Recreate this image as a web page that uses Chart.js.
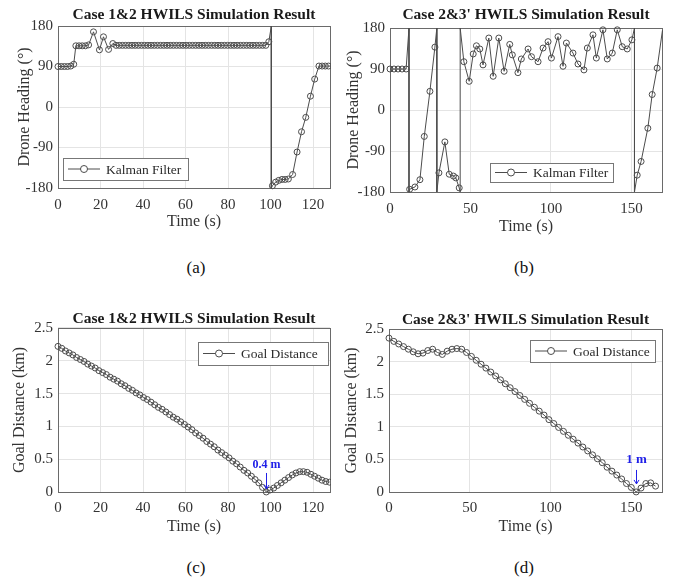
<!DOCTYPE html>
<html>
<head>
<meta charset="utf-8">
<script src="https://cdn.jsdelivr.net/npm/chart.js@4.4.1/dist/chart.umd.min.js"></script>
<style>
  body { margin: 0; background: #fff; }
  #page { position: relative; width: 675px; height: 586px; overflow: hidden; background: #fff; }
  #page canvas { position: absolute; }
  .cap { position: absolute; font: 17px "Liberation Serif", "Times New Roman", serif; color: #111; transform: translate(-50%, -50%); }
</style>
</head>
<body>
<div id="page">
  <canvas id="panelA" width="337" height="240" style="left:0;top:0"></canvas>
  <canvas id="panelB" width="338" height="240" style="left:337px;top:0"></canvas>
  <canvas id="panelC" width="337" height="244" style="left:0;top:298px"></canvas>
  <canvas id="panelD" width="338" height="244" style="left:337px;top:298px"></canvas>
  <div class="cap" style="left:196px;top:268px">(a)</div>
  <div class="cap" style="left:524px;top:268px">(b)</div>
  <div class="cap" style="left:196px;top:568px">(c)</div>
  <div class="cap" style="left:524px;top:568px">(d)</div>
</div>
<script>
// heading, case 1&2 (time in s, heading in deg; +/-180 pairs are the wrap-around)
const headA_t = [0, 1.5, 3, 4.5, 6, 7.4, 8.4, 9.9, 11.4, 12.9, 14.4, 16.7, 19.5, 21.4, 23.8, 25.8,
  27.3, 28.8, 30.3, 31.8, 33.3, 34.8, 36.3, 37.8, 39.3, 40.8, 42.3, 43.8, 45.3, 46.8, 48.3, 49.8,
  51.3, 52.8, 54.3, 55.8, 57.3, 58.8, 60.3, 61.8, 63.3, 64.8, 66.3, 67.8, 69.3, 70.8, 72.3, 73.8,
  75.3, 76.8, 78.3, 79.8, 81.3, 82.8, 84.3, 85.8, 87.3, 88.8, 90.3, 91.8, 93.3, 94.8, 96.3, 97.8,
  99.2, 100.4, 100.4, 100.9, 102.4, 103.9, 105.4, 106.9, 108.4, 110.4, 112.5, 114.6, 116.6,
  118.8, 120.8, 122.8, 124.3, 125.8, 127.3, 128.8];
const headA_deg = [90, 90, 90, 90, 91, 95, 136, 136, 136, 136, 138, 167, 127, 156, 128, 141,
  137, 137, 137, 137, 137, 137, 137, 137, 137, 137, 137, 137, 137, 137, 137, 137,
  137, 137, 137, 137, 137, 137, 137, 137, 137, 137, 137, 137, 137, 137, 137, 137,
  137, 137, 137, 137, 137, 137, 137, 137, 137, 137, 137, 137, 137, 137, 137, 137,
  145, 180, -180, -175, -167, -163, -161, -161, -160, -150, -100, -55, -23,
  24, 62, 91, 91, 91, 91, 91];

// heading, case 2&3'
const headB_t = [0, 2.5, 5, 7.5, 10, 11.8, 11.8, 12.2, 15.5, 18.6, 21.3, 24.8, 27.9, 29.1, 29.1,
  30.4, 34.1, 36.8, 39.4, 40.9, 43.0, 43.6, 43.6, 45.9, 49.2, 51.7, 53.7, 55.8, 57.8, 61.4, 64.1,
  67.6, 70.9, 74.4, 76.0, 79.5, 81.6, 85.8, 87.9, 92.0, 95.1, 98.2, 100.3, 104.4, 107.5, 109.6,
  113.7, 116.8, 120.5, 122.6, 126.1, 128.2, 132.3, 135.0, 138.1, 141.2, 144.3, 147.4, 150.3,
  151.9, 151.9, 153.6, 156.0, 160.2, 162.9, 166.0, 169.3];
const headB_deg = [90, 90, 90, 90, 90, 180, -180, -174, -169, -153, -58, 41, 138, 180, -180,
  -138, -70, -141, -145, -149, -171, -180, 180, 106, 63, 123, 141, 134, 99, 158, 74,
  158, 85, 144, 121, 82, 112, 134, 117, 106, 136, 150, 114, 161, 96, 147,
  125, 101, 88, 136, 165, 114, 176, 112, 125, 176, 139, 134, 154,
  180, -180, -143, -113, -40, 34, 92, 175];

// goal distance, case 1&2 (km)
const distC_t = [0, 1.75, 3.5, 5.25, 7, 8.75, 10.5, 12.25, 14, 15.75, 17.5, 19.25, 21, 22.75,
  24.5, 26.25, 28, 29.75, 31.5, 33.25, 35, 36.75, 38.5, 40.25, 42, 43.75, 45.5, 47.25, 49, 50.75,
  52.5, 54.25, 56, 57.75, 59.5, 61.25, 63, 64.75, 66.5, 68.25, 70, 71.75, 73.5, 75.25, 77, 78.75,
  80.5, 82.25, 84, 85.75, 87.5, 89.25, 91, 92.75, 94.5, 96.25, 98, 99.75, 101.5, 103.25, 105,
  106.75, 108.5, 110.25, 112, 113.75, 115.5, 117.25, 119, 120.75, 122.5, 124.25, 126, 127.75];
const distC_km = [2.22, 2.19, 2.15, 2.12, 2.09, 2.05, 2.02, 1.99, 1.95, 1.92, 1.89, 1.85, 1.82, 1.79,
  1.75, 1.72, 1.69, 1.65, 1.62, 1.58, 1.55, 1.51, 1.48, 1.44, 1.41, 1.37, 1.33, 1.29, 1.26, 1.22,
  1.18, 1.14, 1.11, 1.07, 1.03, 0.99, 0.95, 0.90, 0.86, 0.82, 0.77, 0.73, 0.69, 0.64, 0.60, 0.56,
  0.52, 0.47, 0.43, 0.38, 0.33, 0.29, 0.24, 0.19, 0.14, 0.07, 0.0004, 0.03, 0.06, 0.10, 0.14,
  0.18, 0.22, 0.26, 0.29, 0.31, 0.31, 0.30, 0.27, 0.24, 0.21, 0.18, 0.16, 0.15];

// goal distance, case 2&3'
const distD_t = [0, 3, 6, 9, 12, 15, 18, 21, 24, 27, 30, 33, 36, 39, 42, 45, 48, 51, 54, 57, 60,
  63, 66, 69, 72, 75, 78, 81, 84, 87, 90, 93, 96, 99, 102, 105, 108, 111, 114, 117, 120, 123,
  126, 129, 132, 135, 138, 141, 144, 147, 150, 153, 156, 159, 162, 165];
const distD_km = [2.36, 2.31, 2.27, 2.23, 2.19, 2.15, 2.12, 2.13, 2.17, 2.19, 2.14, 2.11, 2.16,
  2.19, 2.20, 2.19, 2.14, 2.08, 2.02, 1.96, 1.90, 1.84, 1.78, 1.72, 1.66, 1.60, 1.54, 1.48, 1.42,
  1.36, 1.30, 1.24, 1.18, 1.11, 1.05, 0.99, 0.93, 0.87, 0.81, 0.75, 0.69, 0.63, 0.57, 0.51, 0.45,
  0.38, 0.32, 0.26, 0.20, 0.13, 0.07, 0.001, 0.06, 0.13, 0.14, 0.09];

const ticksA = [0, 20, 40, 60, 80, 100, 120];
const ticksB = [0, 50, 100, 150];
const headingTicks = [-180, -90, 0, 90, 180];
const headingLabels = ['-180', '-90', '0', '90', '180'];
const distTicks = [0, 0.5, 1, 1.5, 2, 2.5];
const distLabels = ['0', '0.5', '1', '1.5', '2', '2.5'];

const FONT = "'Liberation Serif', 'Times New Roman', serif";
const INK = '#2a2a2a';
const LINE = '#4c4c4c';

Chart.defaults.font.family = FONT;

// box around the axes, drawn under the data
const framePlugin = {
  id: 'frame',
  beforeDatasetsDraw(chart) {
    const { ctx, chartArea: a } = chart;
    ctx.save();
    ctx.strokeStyle = '#6a6a6a';
    ctx.lineWidth = 1;
    ctx.strokeRect(Math.round(a.left) + 0.5, Math.round(a.top) + 0.5, Math.round(a.width), Math.round(a.height));
    ctx.restore();
  }
};

// boxed legend with a line-and-circle sample, placed inside the axes
const boxLegend = {
  id: 'boxLegend',
  afterDatasetsDraw(chart, args, opts) {
    const { ctx, chartArea: a } = chart;
    const x = Math.round(a.left + opts.x), y = Math.round(a.top + opts.y);
    const my = y + opts.h / 2;
    ctx.save();
    ctx.fillStyle = '#fff';
    ctx.fillRect(x, y, opts.w, opts.h);
    ctx.strokeStyle = '#777';
    ctx.lineWidth = 1;
    ctx.strokeRect(x + 0.5, y + 0.5, opts.w, opts.h);
    ctx.strokeStyle = LINE;
    ctx.beginPath();
    ctx.moveTo(x + 5, my);
    ctx.lineTo(x + 37, my);
    ctx.stroke();
    ctx.fillStyle = '#fff';
    ctx.beginPath();
    ctx.arc(x + 21, my, 3.5, 0, Math.PI * 2);
    ctx.fill();
    ctx.stroke();
    ctx.fillStyle = INK;
    ctx.font = '13.5px ' + FONT;
    ctx.textBaseline = 'middle';
    ctx.fillText(chart.data.datasets[0].label, x + 43, my + 1);
    ctx.restore();
  }
};

// blue label + arrow over the closest approach
const minNote = {
  id: 'minNote',
  afterDatasetsDraw(chart, args, opts) {
    if (!opts.show) return;
    const pts = chart.data.datasets[0].data;
    let k = 0;
    pts.forEach((p, i) => { if (p.y < pts[k].y) k = i; });
    const el = chart.getDatasetMeta(0).data[k];
    const px = Math.round(el.x) + 0.5, py = el.y;
    const text = +(pts[k].y * 1000).toFixed(1) + ' m';
    const { ctx } = chart;
    ctx.save();
    ctx.fillStyle = '#2020e8';
    ctx.strokeStyle = '#2020e8';
    ctx.font = 'bold ' + opts.size + 'px ' + FONT;
    ctx.textAlign = 'center';
    ctx.textBaseline = 'middle';
    ctx.fillText(text, px, py + opts.textDy);
    ctx.lineWidth = 1;
    ctx.beginPath();
    ctx.moveTo(px, py + opts.arrowTop);
    ctx.lineTo(px, py + opts.arrowBottom);
    ctx.stroke();
    ctx.beginPath();
    ctx.moveTo(px - 2.5, py + opts.arrowBottom - 4);
    ctx.lineTo(px, py + opts.arrowBottom);
    ctx.lineTo(px + 2.5, py + opts.arrowBottom - 4);
    ctx.stroke();
    ctx.restore();
  }
};

function panel(id, p) {
  const pts = p.t.map((x, i) => ({ x: x, y: p.v[i] }));
  return new Chart(document.getElementById(id), {
    type: 'line',
    data: {
      datasets: [{
        label: p.label,
        data: pts,
        borderColor: LINE,
        borderWidth: 1,
        tension: 0,
        pointStyle: 'circle',
        pointRadius: c => (c.raw && (Math.abs(c.raw.y) >= 180 || c.raw.x > p.xMax)) ? 0 : 3,
        pointBorderColor: LINE,
        pointBorderWidth: 1,
        pointBackgroundColor: 'rgba(255,255,255,0)',
        clip: { left: 4, right: 1, top: 4, bottom: 4 }
      }]
    },
    plugins: [framePlugin, boxLegend, minNote],
    options: {
      responsive: false,
      animation: false,
      devicePixelRatio: 1,
      events: [],
      layout: { padding: { left: 0, top: 0, right: p.padRight, bottom: 0 } },
      plugins: {
        legend: { display: false },
        tooltip: { enabled: false },
        title: {
          display: true,
          text: p.title,
          fullSize: false,
          color: '#1a1a1a',
          font: { family: FONT, size: 15.5, weight: 'bold' },
          padding: p.titlePad
        },
        boxLegend: p.legend,
        minNote: p.note || { show: false }
      },
      scales: {
        x: {
          type: 'linear',
          min: 0,
          max: p.xMax,
          afterBuildTicks: s => { s.ticks = p.xTicks.map(v => ({ value: v })); },
          afterFit: s => { s.height = p.xHeight; },
          grid: { color: '#e4e4e4', drawTicks: false },
          border: { display: false },
          ticks: { color: '#333', font: { family: FONT, size: 15 }, padding: p.xTickPad, maxRotation: 0, autoSkip: false },
          title: { display: true, text: 'Time (s)', color: '#333', font: { family: FONT, size: 16 }, padding: { top: 0, bottom: p.xTitlePad } }
        },
        y: {
          type: 'linear',
          min: p.yTicks[0],
          max: p.yTicks[p.yTicks.length - 1],
          afterBuildTicks: s => { s.ticks = p.yTicks.map(v => ({ value: v })); },
          afterFit: s => { s.width = p.yWidth; },
          grid: { color: '#e4e4e4', drawTicks: false },
          border: { display: false },
          ticks: {
            color: '#333', font: { family: FONT, size: 15 }, padding: 5,
            callback: (v, i) => p.yLabels[i]
          },
          title: { display: true, text: p.yTitle, color: '#333', font: { family: FONT, size: 16 }, padding: { top: p.yTitlePad, bottom: 0 } }
        }
      }
    }
  });
}

panel('panelA', {
  title: 'Case 1&2 HWILS Simulation Result', label: 'Kalman Filter',
  t: headA_t, v: headA_deg, xMax: 128, xTicks: ticksA, yTicks: headingTicks, yLabels: headingLabels,
  yTitle: 'Drone Heading (°)', yWidth: 58, padRight: 7, xHeight: 52,
  titlePad: { top: 5.7, bottom: 1.7 }, xTickPad: 8, xTitlePad: 8.7, yTitlePad: 15.4,
  legend: { x: 5, y: 132, w: 125, h: 22 }
});

panel('panelB', {
  title: "Case 2&3' HWILS Simulation Result", label: 'Kalman Filter',
  t: headB_t, v: headB_deg, xMax: 169, xTicks: ticksB, yTicks: headingTicks, yLabels: headingLabels,
  yTitle: 'Drone Heading (°)', yWidth: 53, padRight: 13, xHeight: 48,
  titlePad: { top: 5.7, bottom: 3.7 }, xTickPad: 8, xTitlePad: 3.7, yTitlePad: 6.7,
  legend: { x: 100, y: 135, w: 123, h: 19 }
});

panel('panelC', {
  title: 'Case 1&2 HWILS Simulation Result', label: 'Goal Distance',
  t: distC_t, v: distC_km, xMax: 128, xTicks: ticksA, yTicks: distTicks, yLabels: distLabels,
  yTitle: 'Goal Distance (km)', yWidth: 58, padRight: 7, xHeight: 50,
  titlePad: { top: 11.2, bottom: 0.2 }, xTickPad: 6.7, xTitlePad: 5.4, yTitlePad: 10.4,
  legend: { x: 140, y: 14, w: 130, h: 23 },
  note: { show: true, size: 12, textDy: -27, arrowTop: -19, arrowBottom: -3 }
});

panel('panelD', {
  title: "Case 2&3' HWILS Simulation Result", label: 'Goal Distance',
  t: distD_t, v: distD_km, xMax: 169, xTicks: ticksB, yTicks: distTicks, yLabels: distLabels,
  yTitle: 'Goal Distance (km)', yWidth: 52, padRight: 13, xHeight: 50,
  titlePad: { top: 12.4, bottom: 0 }, xTickPad: 6.7, xTitlePad: 5.4, yTitlePad: 5.1,
  legend: { x: 141, y: 11, w: 125, h: 22 },
  note: { show: true, size: 13, textDy: -32, arrowTop: -22, arrowBottom: -8 }
});
</script>
</body>
</html>
